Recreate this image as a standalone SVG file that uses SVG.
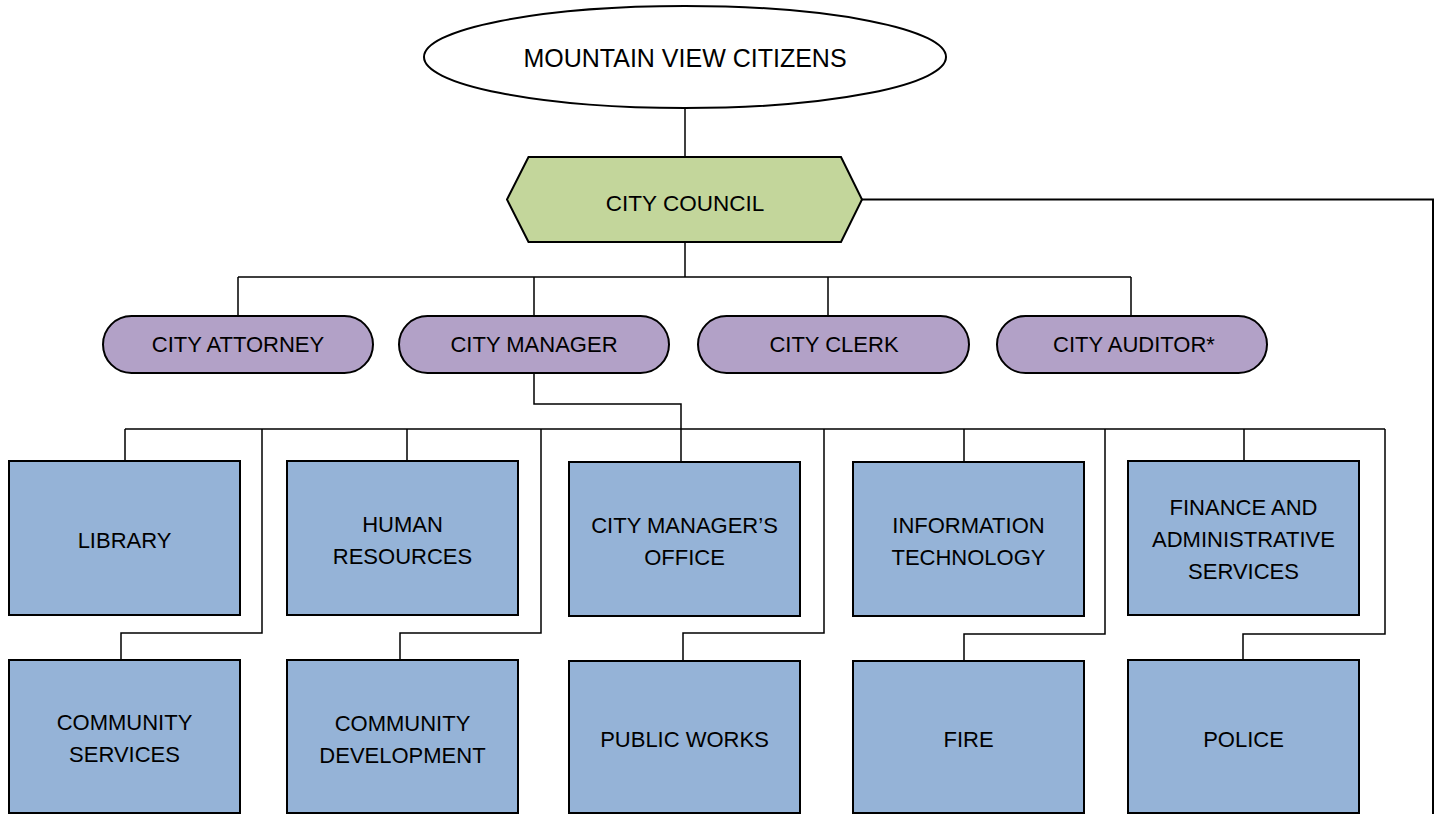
<svg xmlns="http://www.w3.org/2000/svg" width="1438" height="814" viewBox="0 0 1438 814">
<style>
text{font-family:"Liberation Sans",Arial,sans-serif;fill:#000;text-anchor:middle}
.t{font-size:22px}
.conn{fill:none;stroke:#000;stroke-width:1.5}
.dept{fill:#95B3D7;stroke:#000;stroke-width:2}
.pill{fill:#B2A1C7;stroke:#000;stroke-width:2}
</style>
<rect width="1438" height="814" fill="#fff"/>
<g id="connectors">
<path class="conn" d="M685,108V157"/>
<path class="conn" d="M685,242V277"/>
<path class="conn" d="M238,277H1131M238,277V316M534,277V316M828,277V316M1131,277V316"/>
<path class="conn" style="stroke-width:2" d="M862,199.5H1433V814"/>
<path class="conn" d="M534,373V404H681V461"/>
<path class="conn" d="M125,429H1385M125,429V461M407,429V461M964,429V461M1244,429V461"/>
<path class="conn" d="M262,429V633H121V660"/>
<path class="conn" d="M541,429V633H400V660"/>
<path class="conn" d="M824,429V633H683V660"/>
<path class="conn" d="M1105,429V634H964V660"/>
<path class="conn" d="M1385,429V634H1243V660"/>
</g>
<g id="citizens">
<ellipse cx="685" cy="57" rx="261" ry="51" fill="#fff" stroke="#000" stroke-width="2"/>
<text x="685" y="67" style="font-size:25px">MOUNTAIN VIEW CITIZENS</text>
</g>
<g id="council">
<polygon points="507,199.5 528.5,157 841,157 862,199.5 841,242 528.5,242" fill="#C3D69B" stroke="#000" stroke-width="2"/>
<text x="685" y="211" style="font-size:22.5px">CITY COUNCIL</text>
</g>
<g id="city-attorney">
<rect class="pill" x="103" y="316" width="270" height="57" rx="28.5"/>
<text class="t" x="238" y="352">CITY ATTORNEY</text>
</g>
<g id="city-manager">
<rect class="pill" x="399" y="316" width="270" height="57" rx="28.5"/>
<text class="t" x="534" y="352">CITY MANAGER</text>
</g>
<g id="city-clerk">
<rect class="pill" x="698" y="316" width="271" height="57" rx="28.5"/>
<text class="t" x="834" y="352">CITY CLERK</text>
</g>
<g id="city-auditor">
<rect class="pill" x="997" y="316" width="270" height="57" rx="28.5"/>
<text class="t" x="1134" y="352">CITY AUDITOR*</text>
</g>
<g id="library">
<rect class="dept" x="9" y="461" width="231" height="154"/>
<text class="t" x="124.5" y="548">LIBRARY</text>
</g>
<g id="human-resources">
<rect class="dept" x="287" y="461" width="231" height="154"/>
<text class="t" x="402.5" y="532">HUMAN</text>
<text class="t" x="402.5" y="564">RESOURCES</text>
</g>
<g id="city-managers-office">
<rect class="dept" x="569" y="462" width="231" height="154"/>
<text class="t" x="684.5" y="533">CITY MANAGER’S</text>
<text class="t" x="684.5" y="565">OFFICE</text>
</g>
<g id="information-technology">
<rect class="dept" x="853" y="462" width="231" height="154"/>
<text class="t" x="968.5" y="533">INFORMATION</text>
<text class="t" x="968.5" y="565">TECHNOLOGY</text>
</g>
<g id="finance">
<rect class="dept" x="1128" y="461" width="231" height="154"/>
<text class="t" x="1243.5" y="515">FINANCE AND</text>
<text class="t" x="1243.5" y="547">ADMINISTRATIVE</text>
<text class="t" x="1243.5" y="579">SERVICES</text>
</g>
<g id="community-services">
<rect class="dept" x="9" y="660" width="231" height="153"/>
<text class="t" x="124.5" y="730">COMMUNITY</text>
<text class="t" x="124.5" y="762">SERVICES</text>
</g>
<g id="community-development">
<rect class="dept" x="287" y="660" width="231" height="153"/>
<text class="t" x="402.5" y="731">COMMUNITY</text>
<text class="t" x="402.5" y="763">DEVELOPMENT</text>
</g>
<g id="public-works">
<rect class="dept" x="569" y="661" width="231" height="152"/>
<text class="t" x="684.5" y="747">PUBLIC WORKS</text>
</g>
<g id="fire">
<rect class="dept" x="853" y="661" width="231" height="152"/>
<text class="t" x="968.5" y="747">FIRE</text>
</g>
<g id="police">
<rect class="dept" x="1128" y="660" width="231" height="153"/>
<text class="t" x="1243.5" y="747">POLICE</text>
</g>
</svg>
